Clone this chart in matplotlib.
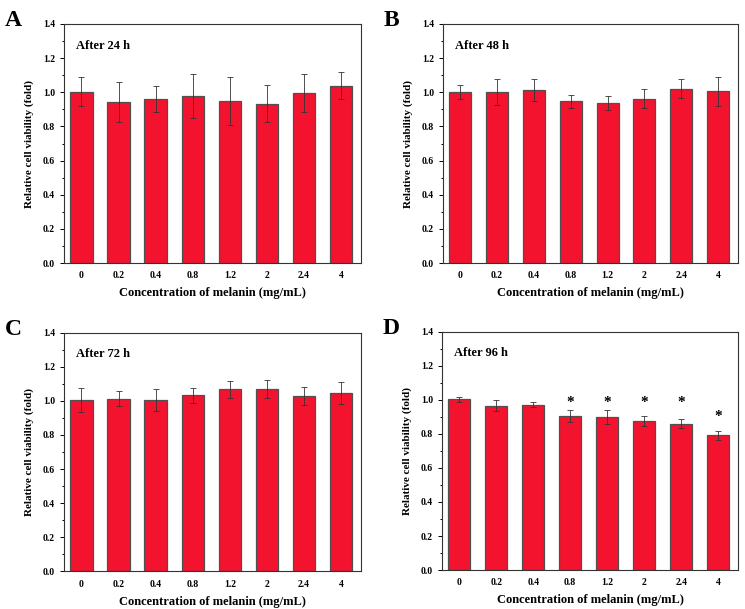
import matplotlib
matplotlib.use("Agg")
import matplotlib.pyplot as plt
from matplotlib.ticker import MultipleLocator

plt.rcParams['font.family'] = ['Liberation Serif', 'DejaVu Serif']
plt.rcParams['font.weight'] = 'bold'

concentrations = ['0', '0.2', '0.4', '0.8', '1.2', '2', '2.4', '4']

# mean relative viability and error for each time point
viab_24h = [1.003, 0.944, 0.960, 0.978, 0.948, 0.933, 0.995, 1.038]
err_24h = [0.085, 0.117, 0.074, 0.129, 0.141, 0.107, 0.112, 0.079]

viab_48h = [1.003, 0.999, 1.013, 0.948, 0.937, 0.962, 1.021, 1.005]
err_48h = [0.041, 0.076, 0.066, 0.039, 0.043, 0.055, 0.054, 0.086]

viab_72h = [1.006, 1.014, 1.006, 1.032, 1.069, 1.071, 1.030, 1.048]
err_72h = [0.069, 0.045, 0.065, 0.045, 0.049, 0.053, 0.053, 0.064]

viab_96h = [1.003, 0.967, 0.973, 0.905, 0.897, 0.875, 0.860, 0.791]
err_96h = [0.017, 0.032, 0.014, 0.037, 0.041, 0.028, 0.025, 0.029]

# significance stars in panel D (index, height)
star_idx = [3, 4, 5, 6, 7]
star_y = [0.985, 0.985, 0.985, 0.985, 0.90]

panels = [
    ('A', 'After 24 h', viab_24h, err_24h, [0.0859, 0.5681, 0.3987, 0.3925]),
    ('B', 'After 48 h', viab_48h, err_48h, [0.5946, 0.5681, 0.3960, 0.3925]),
    ('C', 'After 72 h', viab_72h, err_72h, [0.0859, 0.0620, 0.3987, 0.3915]),
    ('D', 'After 96 h', viab_96h, err_96h, [0.5933, 0.0640, 0.3973, 0.3910]),
]

fig = plt.figure(figsize=(7.45, 6.09), dpi=100)

for letter, title, vals, errs, pos in panels:
    ax = fig.add_axes(pos)
    x = range(len(concentrations))
    ax.bar(x, vals, width=0.6, color='#F3132F', edgecolor='#505050', linewidth=0.9,
           yerr=errs, error_kw=dict(ecolor='#333333', elinewidth=0.6, capsize=2.5, capthick=0.6))
    ax.set_xlim(-0.47, 7.54)
    ax.set_ylim(0, 1.4)
    ax.yaxis.set_major_locator(MultipleLocator(0.2))
    ax.yaxis.set_minor_locator(MultipleLocator(0.1))
    ax.set_xticks(list(x))
    ax.set_xticklabels(concentrations)
    ax.set_yticklabels([f'{v:.1f}' for v in ax.get_yticks()])
    ax.tick_params(axis='both', which='both', direction='out', labelsize=7, width=0.7)
    ax.tick_params(axis='y', which='major', length=3)
    ax.tick_params(axis='y', which='minor', length=1.8)
    ax.tick_params(axis='x', length=0, pad=6)
    for s in ax.spines.values():
        s.set_linewidth(0.8)
        s.set_color('#333333')
    ax.set_xlabel('Concentration of melanin (mg/mL)', fontsize=9, fontweight='bold', labelpad=5)
    ax.set_ylabel('Relative cell viability (fold)', fontsize=8, fontweight='bold', labelpad=6)
    ax.text(0.04, 0.935, title, transform=ax.transAxes, fontsize=9, fontweight='bold',
            va='top', ha='left')
    ax.text(-0.2, 1.06, letter, transform=ax.transAxes, fontsize=17, fontweight='bold',
            va='top', ha='left')
    if letter == 'D':
        for i, y in zip(star_idx, star_y):
            ax.text(i, y, '*', ha='center', va='center', fontsize=11, fontweight='bold')

fig.savefig('out.png', dpi=100)
